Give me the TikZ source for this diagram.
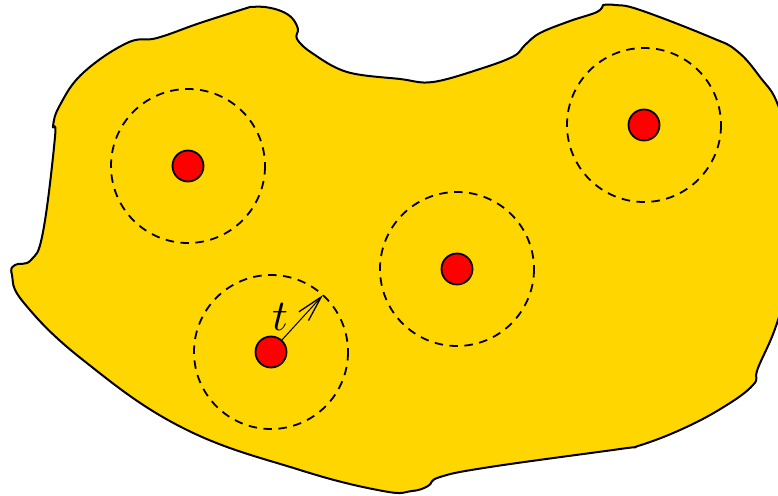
\documentclass[tikz,border=0pt]{standalone}
\usetikzlibrary{arrows.meta}
\definecolor{blobyellow}{RGB}{255,214,0}
\definecolor{dotred}{RGB}{255,0,0}
\tikzset{
  blob/.style={fill=blobyellow, draw=black, line width=2pt, line join=round},
  zone/.style={draw=black, line width=1.8pt, dash pattern=on 8.5pt off 6.5pt},
  point/.style={circle, fill=dotred, draw=black, line width=1.8pt, minimum size=31pt, inner sep=0pt},
  radius arrow/.style={draw=black, line width=1pt, -{Straight Barb[length=26pt,width=13pt,line width=1.3pt]}},
  lbl/.style={inner sep=0pt, scale=4.4}
}
\begin{document}
\begin{tikzpicture}[x=1pt,y=-1pt]
\useasboundingbox (0,0) rectangle (778,495);
\clip (0,0) rectangle (778,495);
\path[blob] (250,7)
  -- plot[smooth, tension=0.6] coordinates {(250,7) (265,7) (281,11) (292,18) (298,29) (297,39) (312,53) (347,72) (400,79) (433,82) (483,68) (514,56) (525,45) (540,33) (570,21) (597,12) (603,5)}
  -- plot[smooth, tension=0.7] coordinates {(603,5) (615,5) (640,10) (710,37) (737,51) (760,77) (778,105) (792,160) (795,250) (778,320) (758,368) (753,385) (722,408) (680,430) (638,446) (620,449) (490,467) (440,477) (428,486) (412,491) (383,491) (300,470) (183,428) (83,360) (24,303) (12,275) (15,265) (31,260) (43,232) (55,137) (53,126) (60,105) (83,73) (127,43) (157,38) (200,23) (250,7)}
  -- cycle;

\foreach \n/\x/\y in {c1/188/166, c2/457/269, c3/644/125, c4/271/352} {
  \draw[zone] (\x,\y) circle[radius=77];
  \node[point] (\n) at (\x,\y) {};
}
\coordinate (tip) at (323,295);
\draw[radius arrow] (c4) -- (tip);
\node[lbl] (t) at (280,317) {$t$};
\end{tikzpicture}
\end{document}
